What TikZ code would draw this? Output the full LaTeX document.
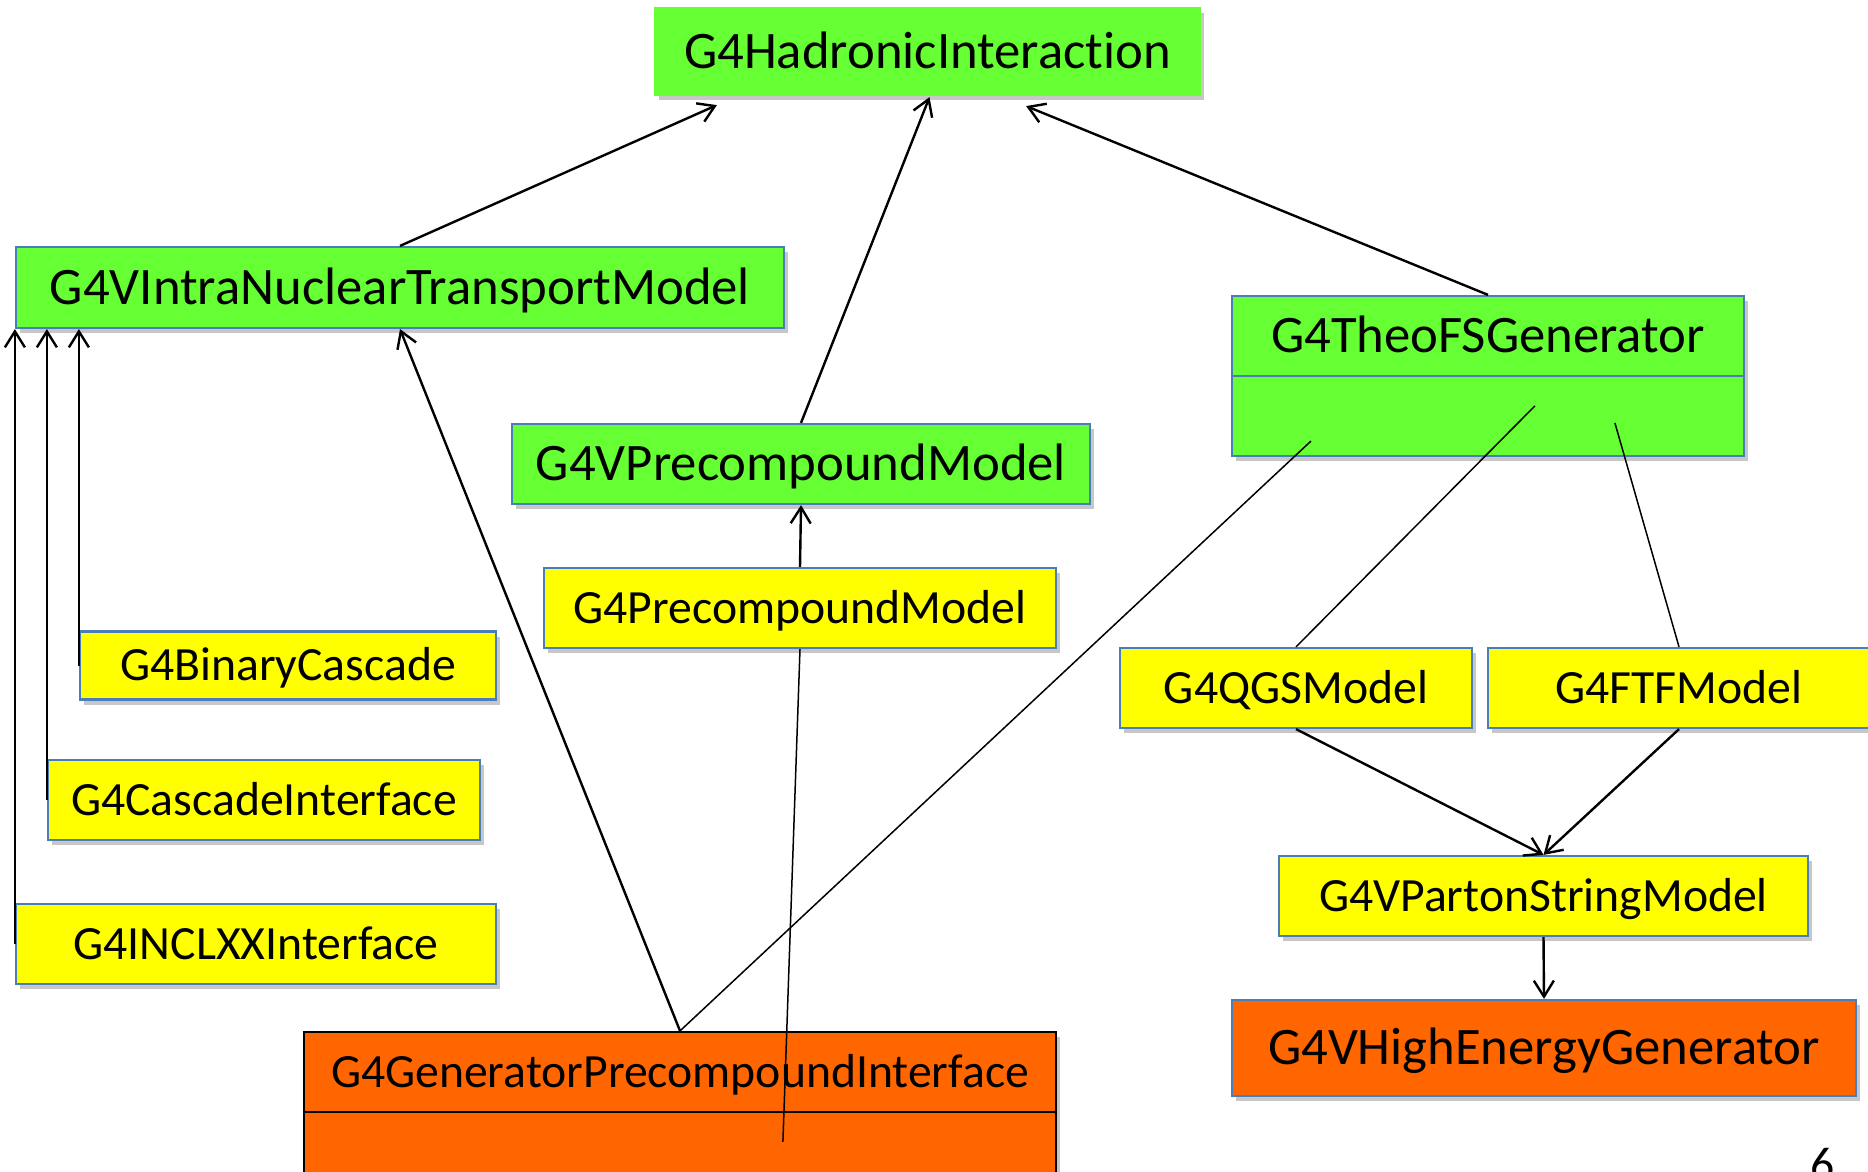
\documentclass[tikz,border=0pt]{standalone}
\usepackage{fontspec}
\setmainfont{Carlito}[Ligatures={NoCommon}]
\usetikzlibrary{arrows.meta,shadows,calc}
\definecolor{grn}{HTML}{66FF33}
\definecolor{ylw}{HTML}{FFFF00}
\definecolor{org}{HTML}{FF6600}
\definecolor{bdr}{HTML}{4A7EBB}
\begin{document}
\begin{tikzpicture}[x=1pt,y=-1pt,
  box/.style={draw=bdr, line width=2.2pt, inner sep=0pt,
    drop shadow={shadow xshift=4pt, shadow yshift=-5pt, opacity=0.22, fill=black}},
  big/.style={font=\fontsize{52.7}{60}\selectfont, text height=33.9pt, text depth=0pt},
  small/.style={font=\fontsize{47.7}{55}\selectfont, text height=30.7pt, text depth=0pt},
  arr/.style={line width=2.4pt, -{Straight Barb[length=16pt,width=20pt]}},
  thin/.style={line width=1.5pt}]
\useasboundingbox (0,0) rectangle (1868,1172);
\clip (0,0) rectangle (1868,1172);

% nodes
\node[box, draw=grn, fill=grn, big, minimum width=545pt, minimum height=87pt] (hadr) at (927.5,51.5) {G4HadronicInteraction};
\node[box, fill=grn, big, minimum width=768pt, minimum height=81pt] (intr) at (400,287.5) {G4VIntraNuclearTransportModel};
\node[box, fill=grn, big, minimum width=578pt, minimum height=80pt] (vpre) at (801,464) {G4VPrecompoundModel};
\node[box, fill=ylw, small, minimum width=512pt, minimum height=80pt] (pre) at (800,608) {G4PrecompoundModel};
\node[box, fill=grn, big, minimum width=512pt, minimum height=80pt] (theo) at (1488,336) {G4TheoFSGenerator};
\node[box, fill=grn, minimum width=512pt, minimum height=80pt] (theob) at (1488,416) {};
\node[box, fill=ylw, small, minimum width=416pt, minimum height=68pt] (bin) at (288,665.5) {G4BinaryCascade};
\node[box, fill=ylw, small, minimum width=432pt, minimum height=80pt] (casc) at (264,800) {G4CascadeInterface};
\node[box, fill=ylw, small, minimum width=480pt, minimum height=80pt] (incl) at (256,944) {G4INCLXXInterface};
\node[box, draw=black, fill=org, small, minimum width=752pt, minimum height=80pt] (gen) at (680,1072) {G4GeneratorPrecompoundInterface};
\node[box, draw=black, fill=org, minimum width=752pt, minimum height=90pt] (genb) at (680,1157) {};
\node[box, fill=ylw, small, minimum width=352pt, minimum height=80pt] (qgs) at (1296,688) {G4QGSModel};
\node[box, fill=ylw, small, minimum width=382pt, minimum height=80pt] (ftf) at (1679,688) {G4FTFModel};
\node[box, fill=ylw, small, minimum width=529pt, minimum height=80pt] (vpsm) at (1543.5,896) {G4VPartonStringModel};
\node[box, fill=org, big, minimum width=624pt, minimum height=96pt] (vheg) at (1544,1048) {G4VHighEnergyGenerator};
\node[font=\fontsize{47.7}{55}\selectfont, anchor=base, inner sep=0pt] (pg) at (1823,1180) {6};

% connectors
\draw[arr] (intr.north) -- ([xshift=63pt,yshift=-9pt]hadr.south west);
\draw[arr] (vpre.north) -- ([xshift=2pt,yshift=-1pt]hadr.south);
\draw[arr] (theo.north) -- ([xshift=-175pt,yshift=-10pt]hadr.south east);
\draw[arr] (bin.west) -- (bin.west |- intr.south);
\draw[arr] (casc.west) -- (casc.west |- intr.south);
\draw[arr] (incl.west) -- (incl.west |- intr.south);
\draw[arr] (gen.north) -- (intr.south);
\draw[thin] (gen.north) -- ([xshift=80pt,yshift=16pt]theob.south west);
\draw[thin] ([xshift=480pt,yshift=-31pt]genb.north west) -- (pre.south);
\draw[arr] (pre.north) -- (vpre.south);
\draw[thin] (qgs.north) -- ([xshift=304pt,yshift=-31pt]theob.north west);
\draw[thin] (ftf.north) -- ([xshift=384pt,yshift=-48pt]theob.north west);
\draw[arr] (qgs.south) -- (vpsm.north);
\draw[arr] (ftf.south) -- (vpsm.north);
\draw[arr] (vpsm.south) -- (vheg.north);
\end{tikzpicture}
\end{document}
